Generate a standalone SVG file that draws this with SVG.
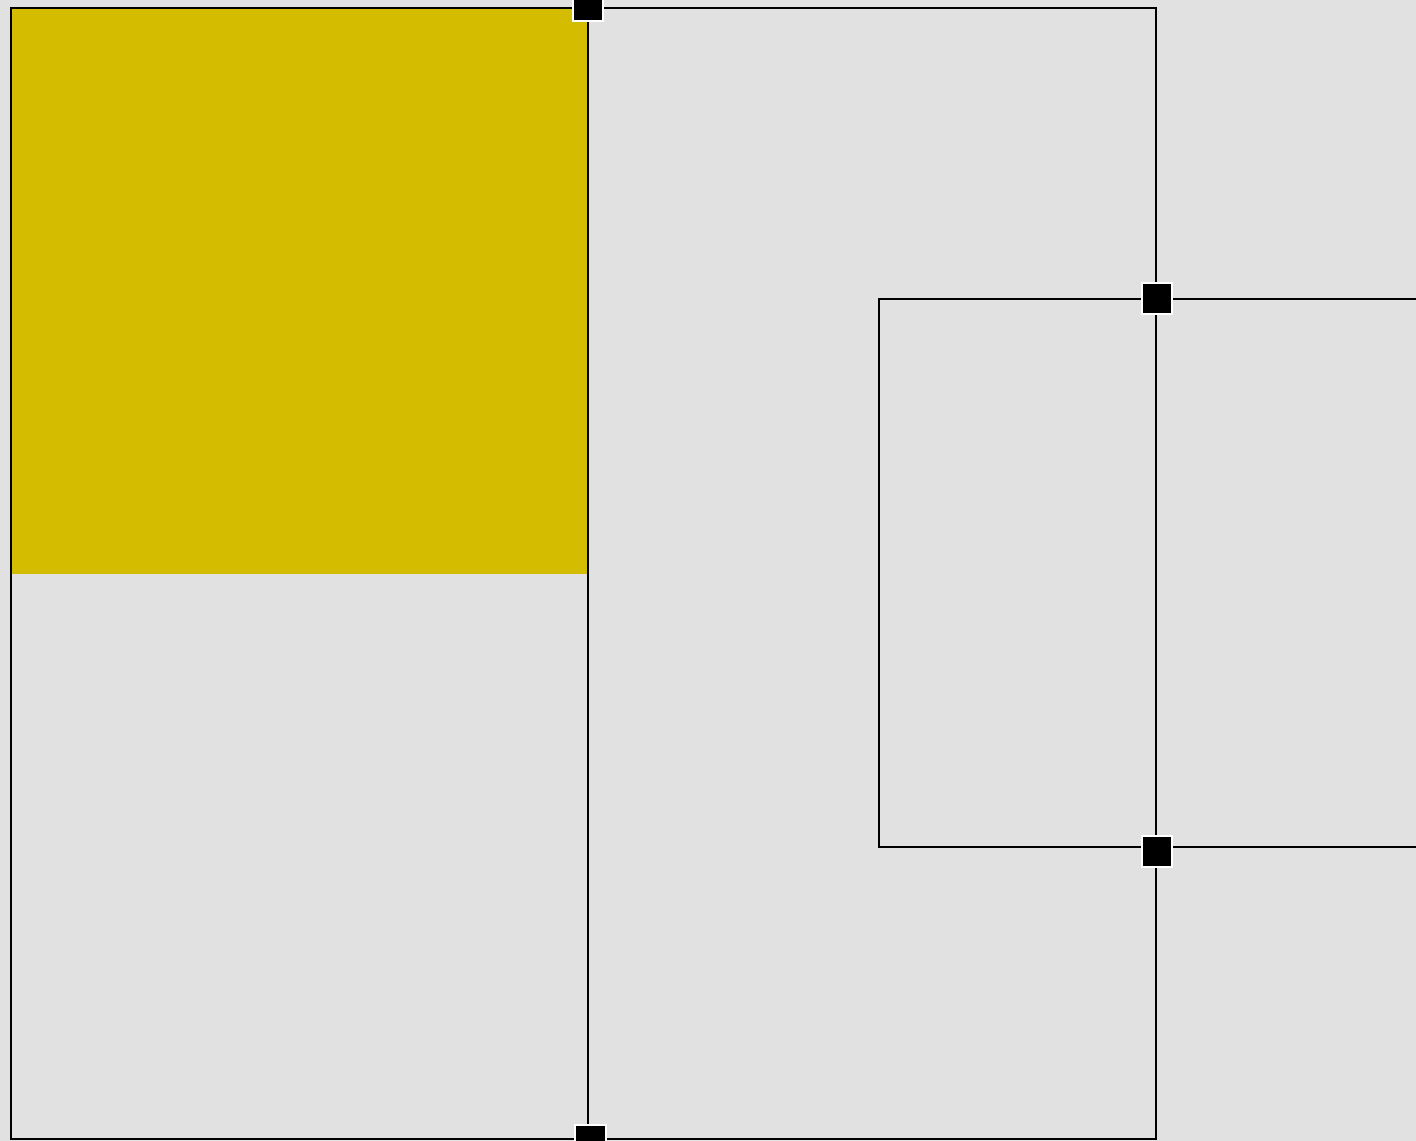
<svg xmlns="http://www.w3.org/2000/svg" width="1416" height="1141" viewBox="0 0 1416 1141">
<style>
.ln{fill:none;stroke:#000;stroke-width:2}
.pt{fill:#000;stroke:#fff;stroke-width:2}
</style>
<rect x="0" y="0" width="1416" height="1141" fill="#e0e1e0"/>
<g id="yellow-block">
<rect x="12" y="8" width="576" height="566" fill="#d4bc00"/>
</g>
<g id="connectors">
<rect class="ln" x="11" y="8" width="1145" height="1131"/>
<line class="ln" x1="588" y1="8" x2="588" y2="1139"/>
<path class="ln" d="M1416 299 H879 V847 H1416"/>
</g>
<g id="ports">
<rect id="p1" class="pt" x="573" y="-9" width="30" height="30"/>
<rect id="p2" class="pt" x="1142" y="283" width="30" height="31"/>
<rect id="p3" class="pt" x="1142" y="836" width="30" height="31"/>
<rect id="p4" class="pt" x="575" y="1125" width="31" height="30"/>
</g>
</svg>
